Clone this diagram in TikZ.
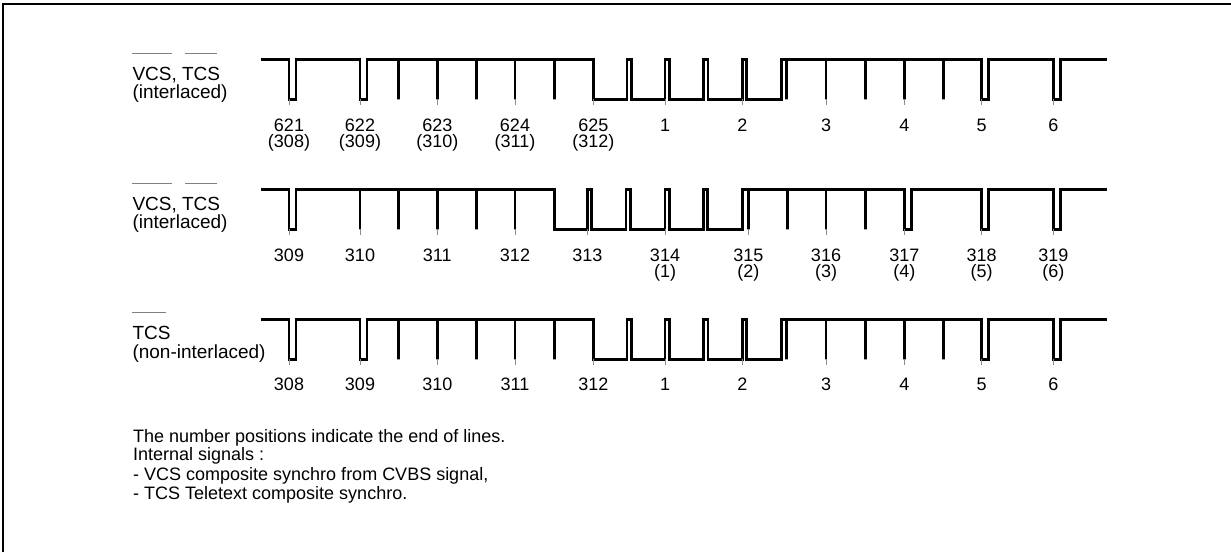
\documentclass[tikz,border=0pt]{standalone}
\usepackage{fontspec}
\setmainfont{Liberation Sans}
\newcommand\rowwaveA{%
\draw[sig] (261,0) -- (289,0) -- (289,40) -- (296,40) -- (296,0)
 -- (360,0) -- (360,40) -- (367,40) -- (367,0)
 -- (398.3,0) -- (398.3,40) -- (398.3,0)
 -- (437.3,0) -- (437.3,40) -- (437.3,0)
 -- (476.7,0) -- (476.7,40) -- (476.7,0)
 -- (515,0) -- (515,40) -- (515,0)
 -- (554.3,0) -- (554.3,40) -- (554.3,0)
 -- (593.3,0) -- (593.3,40)
 -- (627,40) -- (627,0) -- (631.5,0) -- (631.5,40)
 -- (665,40) -- (665,0) -- (669.5,0) -- (669.5,40)
 -- (703.5,40) -- (703.5,0) -- (708,0) -- (708,40)
 -- (742.3,40) -- (742.3,0) -- (746.8,0) -- (746.8,40)
 -- (781.7,40) -- (781.7,0) -- (786.8,0) -- (786.8,40) -- (786.8,0)
 -- (826,0) -- (826,40) -- (826,0)
 -- (865.7,0) -- (865.7,40) -- (865.7,0)
 -- (904.3,0) -- (904.3,40) -- (904.3,0)
 -- (943.3,0) -- (943.3,40) -- (943.3,0)
 -- (981.7,0) -- (981.7,40) -- (988.7,40) -- (988.7,0)
 -- (1053.3,0) -- (1053.3,40) -- (1060.3,40) -- (1060.3,0)
 -- (1106.7,0);}
\newcommand\rowwaveB{%
\draw[sig] (261,0) -- (289,0) -- (289,40) -- (296,40) -- (296,0)
 -- (360,0) -- (360,40) -- (360,0)
 -- (398.3,0) -- (398.3,40) -- (398.3,0)
 -- (437.3,0) -- (437.3,40) -- (437.3,0)
 -- (476.7,0) -- (476.7,40) -- (476.7,0)
 -- (515,0) -- (515,40) -- (515,0)
 -- (554.3,0) -- (554.3,40)
 -- (587.3,40) -- (587.3,0) -- (591.8,0) -- (591.8,40)
 -- (626,40) -- (626,0) -- (630.5,0) -- (630.5,40)
 -- (665,40) -- (665,0) -- (669.5,0) -- (669.5,40)
 -- (703.3,40) -- (703.3,0) -- (707.8,0) -- (707.8,40)
 -- (742.3,40) -- (742.3,0) -- (748.3,0) -- (748.3,40) -- (748.3,0)
 -- (787.3,0) -- (787.3,40) -- (787.3,0)
 -- (826,0) -- (826,40) -- (826,0)
 -- (865.7,0) -- (865.7,40) -- (865.7,0)
 -- (904.3,0) -- (904.3,40) -- (911.3,40) -- (911.3,0)
 -- (981.7,0) -- (981.7,40) -- (988.7,40) -- (988.7,0)
 -- (1053.3,0) -- (1053.3,40) -- (1060.3,40) -- (1060.3,0)
 -- (1106.7,0);}
\begin{document}
\begin{tikzpicture}[x=1pt,y=-1pt,
  sig/.style={line width=2.7pt, line join=miter},
  tickmark/.style={line width=0.8pt, black!45},
  overbar/.style={line width=1pt, black!50},
  num/.style={font=\fontsize{18}{18}\selectfont, anchor=base, inner sep=0pt},
  lab/.style={font=\fontsize{19}{19}\selectfont, anchor=base west, inner sep=0pt},
  note/.style={font=\fontsize{18}{18}\selectfont, anchor=base west, inner sep=0pt}]
\useasboundingbox (0,0) rectangle (1231,552);
% frame
\draw[line width=2pt] (3.3,552) -- (3.3,4.3) -- (1231,4.3);

% ---------- row 1 ----------
\begin{scope}[shift={(0,59.3)}]
\rowwaveA
\foreach \x in {289,360,437.3,515,593.3,665,742.3,826,904.3,981.7,1053.3}
  \draw[tickmark] (\x,40) -- (\x,46);
\end{scope}
\foreach \x/\t [count=\i] in {289/621,360/622,437.3/623,515/624,593.3/625,665/1,742.3/2,826/3,904.3/4,981.7/5,1053.3/6}
  \node[num] (ra\i) at (\x,131.7) {\t};
\foreach \x/\t [count=\i] in {289/(308),360/(309),437.3/(310),515/(311),593.3/(312)}
  \node[num] (rab\i) at (\x,147.3) {\t};
\node[lab] (la1) at (132.3,80) {VCS, TCS};
\node[lab] (la2) at (132.3,98.3) {(interlaced)};
\draw[overbar] (132.3,53.3) -- (171.7,53.3);
\draw[overbar] (185,53.3) -- (217.3,53.3);

% ---------- row 2 ----------
\begin{scope}[shift={(0,189.3)}]
\rowwaveB
\foreach \x in {289,360,437.3,515,587.3,665,748.3,826,904.3,981.7,1053.3}
  \draw[tickmark] (\x,40) -- (\x,46);
\end{scope}
\foreach \x/\t [count=\i] in {289/309,360/310,437.3/311,515/312,587.3/313,665/314,748.3/315,826/316,904.3/317,981.7/318,1053.3/319}
  \node[num] (rb\i) at (\x,261) {\t};
\foreach \x/\t [count=\i] in {665/(1),748.3/(2),826/(3),904.3/(4),981.7/(5),1053.3/(6)}
  \node[num] (rbb\i) at (\x,277) {\t};
\node[lab] (lb1) at (132.3,210) {VCS, TCS};
\node[lab] (lb2) at (132.3,228.7) {(interlaced)};
\draw[overbar] (132.3,183.3) -- (171.7,183.3);
\draw[overbar] (185,183.3) -- (217.3,183.3);

% ---------- row 3 ----------
\begin{scope}[shift={(0,319.3)}]
\rowwaveA
\foreach \x in {289,360,437.3,515,593.3,665,742.3,826,904.3,981.7,1053.3}
  \draw[tickmark] (\x,40) -- (\x,46);
\end{scope}
\foreach \x/\t [count=\i] in {289/308,360/309,437.3/310,515/311,593.3/312,665/1,742.3/2,826/3,904.3/4,981.7/5,1053.3/6}
  \node[num] (rc\i) at (\x,390) {\t};
\node[lab] (lc1) at (132.3,339.3) {TCS};
\node[lab] (lc2) at (132.3,358.3) {(non-interlaced)};
\draw[overbar] (132.3,312.7) -- (165.7,312.7);

% ---------- notes ----------
\node[note] (n1) at (133,442.3) {The number positions indicate the end of lines.};
\node[note] (n2) at (133,460.7) {Internal signals :};
\node[note] (n3) at (133,480) {- VCS composite synchro from CVBS signal,};
\node[note] (n4) at (133,499.3) {- TCS Teletext composite synchro.};
\end{tikzpicture}
\end{document}
